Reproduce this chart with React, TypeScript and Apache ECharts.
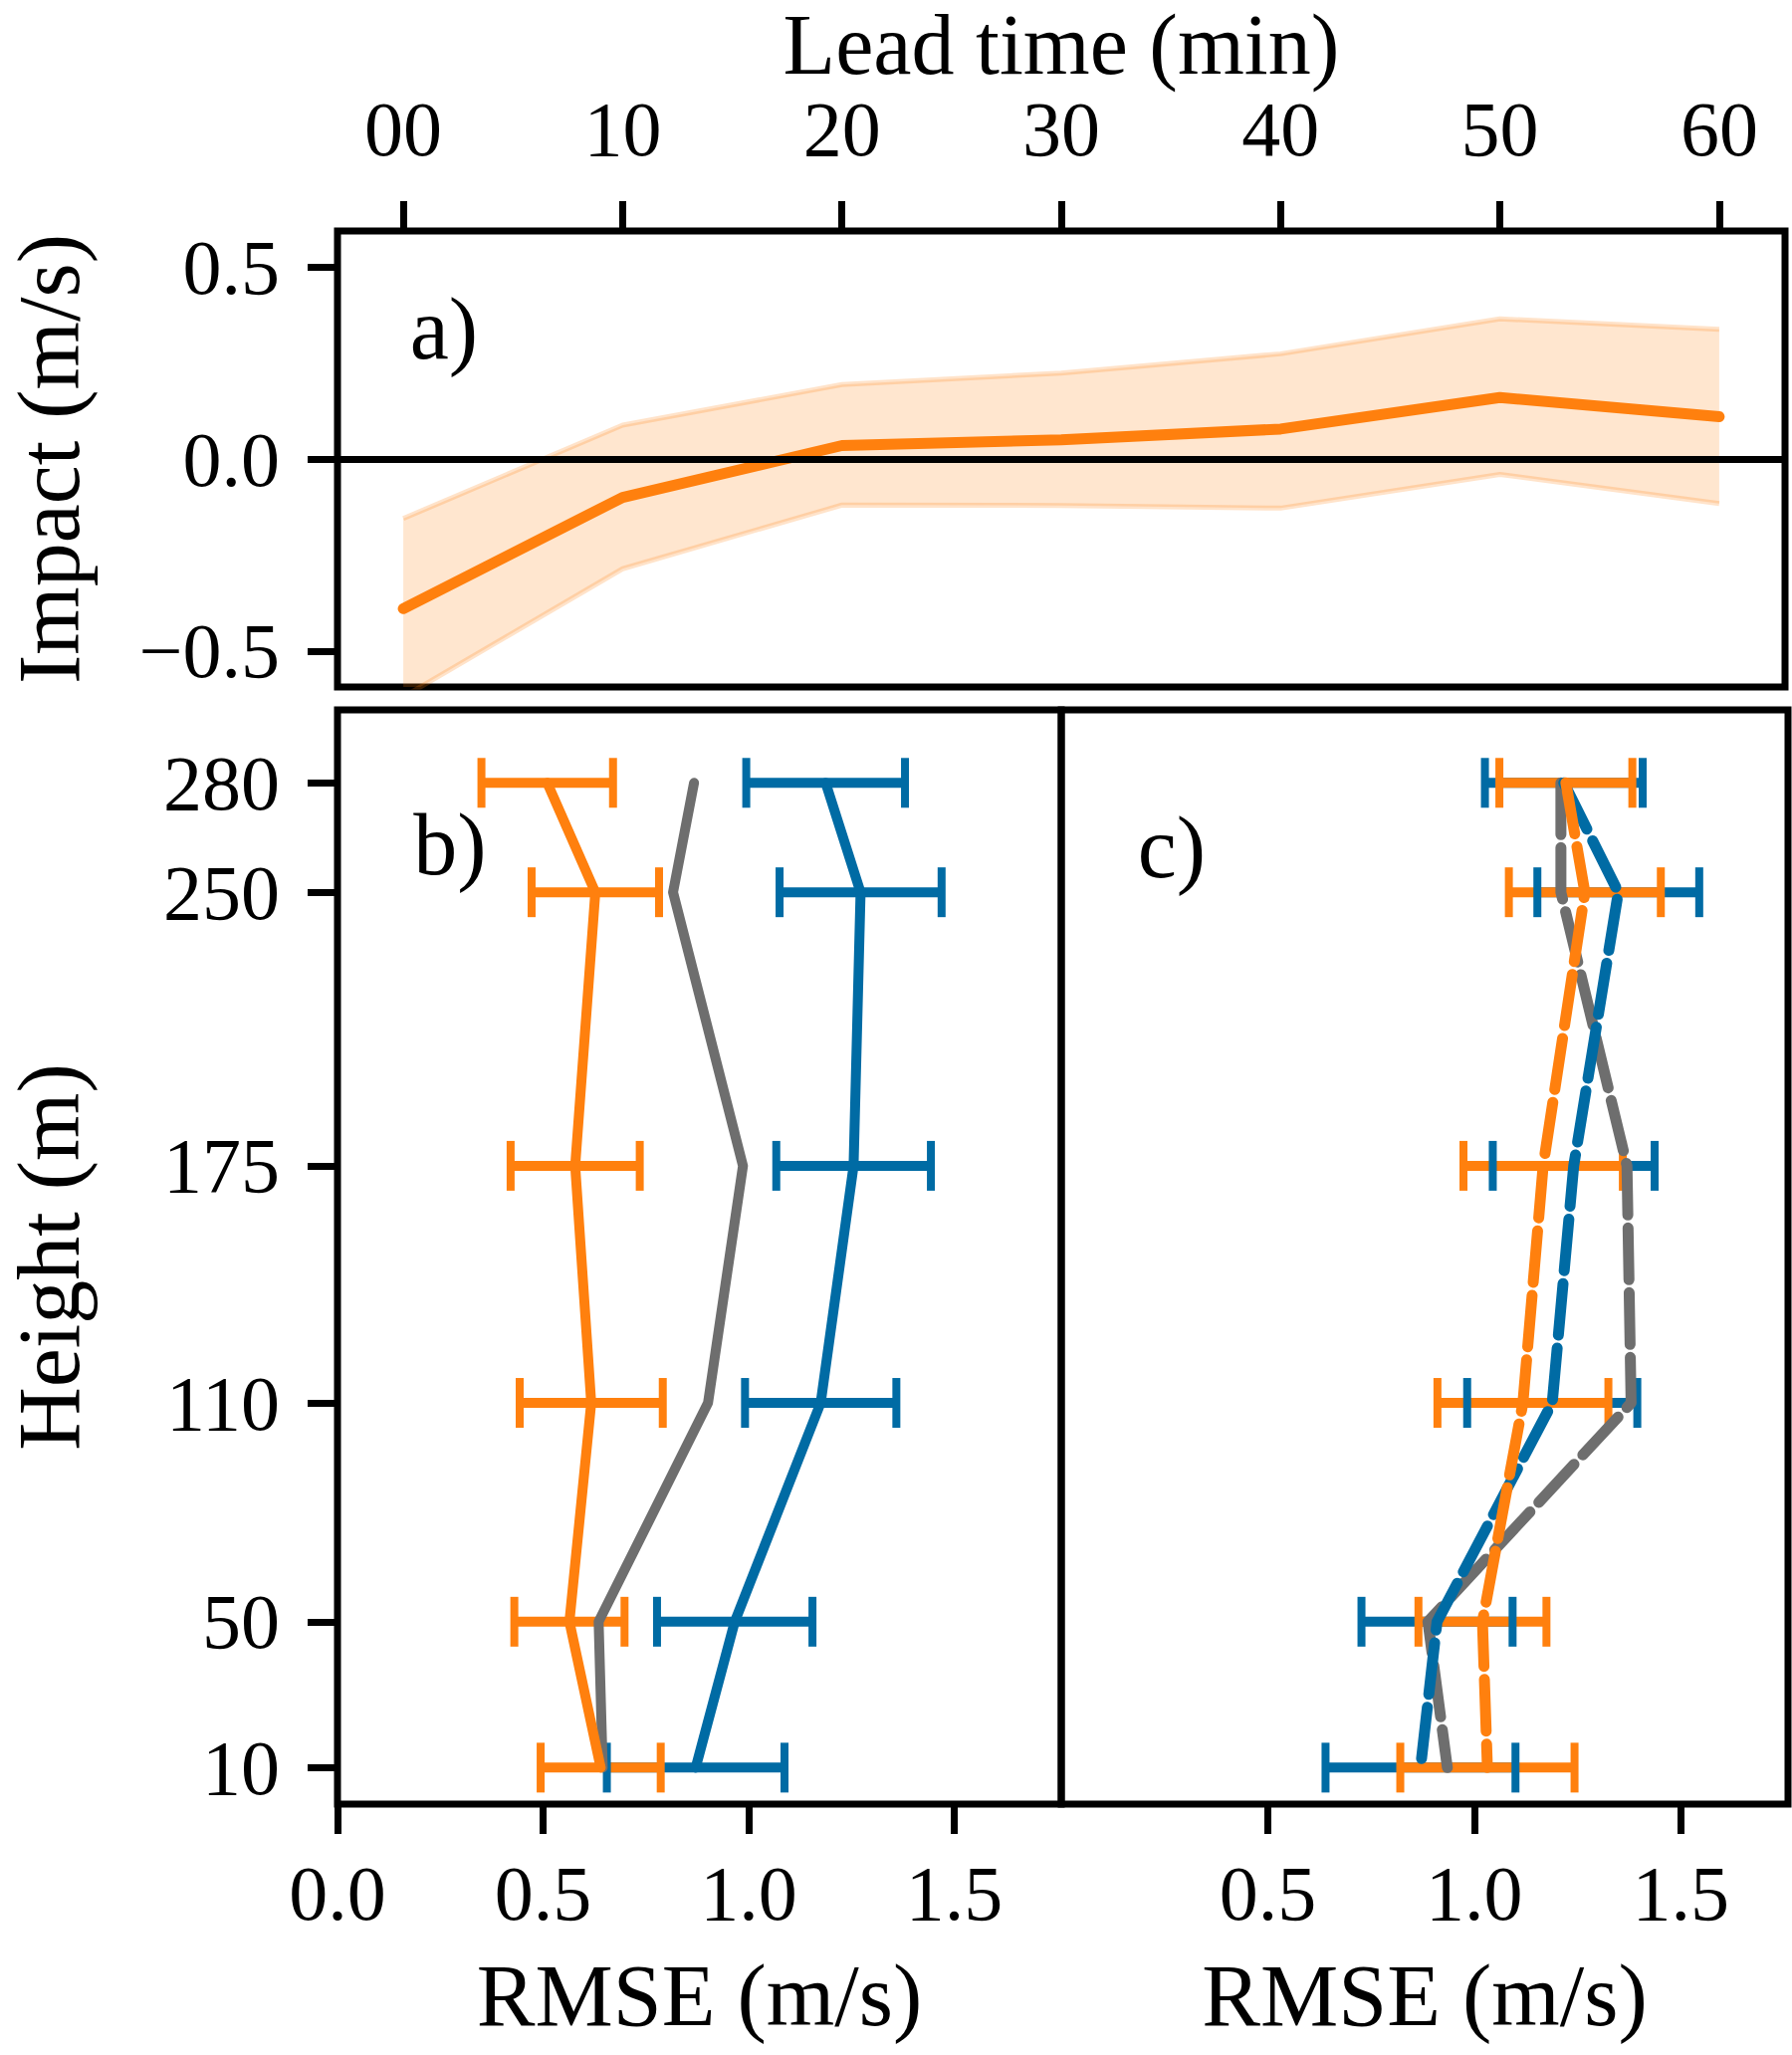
import React, { useEffect, useRef } from "react";
import * as echarts from "echarts";

// panel a: impact vs lead time
const leadTimes = [0, 10, 20, 30, 40, 50, 60];
const leadLabels = ["00", "10", "20", "30", "40", "50", "60"];
const impactMean = [-0.39, -0.1, 0.035, 0.05, 0.078, 0.16, 0.11];
const impactUpper = [-0.155, 0.088, 0.194, 0.224, 0.274, 0.365, 0.338];
const impactLower = [-0.62, -0.286, -0.12, -0.121, -0.128, -0.04, -0.116];
const impactTicks = [-0.5, 0, 0.5];
const impactTickLabels = ["\u22120.5", "0.0", "0.5"];

// panels b and c: RMSE profiles
const heights = [280, 250, 175, 110, 50, 10];
const rmseTicksB = [0, 0.5, 1, 1.5];
const rmseTicksC = [0.5, 1, 1.5];

const greyB = [0.867, 0.816, 0.986, 0.901, 0.635, 0.645];
const blueB = [1.187, 1.272, 1.255, 1.175, 0.966, 0.871];
const blueErrB = [0.193, 0.197, 0.188, 0.184, 0.189, 0.216];
const orangeB = [0.51, 0.627, 0.578, 0.617, 0.564, 0.64];
const orangeErrB = [0.16, 0.155, 0.157, 0.174, 0.134, 0.146];

const greyC = [1.21, 1.21, 1.37, 1.38, 0.888, 0.935];
const blueC = [1.217, 1.349, 1.241, 1.189, 0.91, 0.87];
const blueErrC = [0.191, 0.196, 0.196, 0.206, 0.183, 0.23];
const orangeC = [1.222, 1.268, 1.167, 1.118, 1.02, 1.032];
const orangeErrC = [0.161, 0.184, 0.193, 0.207, 0.155, 0.211];

const ORANGE = "#ff800e";
const BLUE = "#006ba4";
const GREY = "#6e6e6e";
const BAND_FILL = "rgba(255,128,14,0.2)";
const BAND_EDGE = "rgba(255,128,14,0.22)";
const FONT = "Liberation Serif";
const TICK_FS = 78;
const NAME_FS = 88;

const tickStyle = { length: 30, lineStyle: { width: 7, color: "#000" } };
const noLine = { show: false, onZero: false };

const errBars = (color: string) => (_p: any, api: any) => {
  const c = api.value(0);
  const h = api.value(1);
  const e = api.value(2);
  const a = api.coord([c - e, h]);
  const b = api.coord([c + e, h]);
  return {
    type: "line",
    shape: { x1: a[0], y1: a[1], x2: b[0], y2: b[1] },
    style: { stroke: color, lineWidth: 10 },
  };
};

const errCaps = (color: string) => (_p: any, api: any) => {
  const c = api.value(0);
  const h = api.value(1);
  const e = api.value(2);
  const a = api.coord([c - e, h]);
  const b = api.coord([c + e, h]);
  return {
    type: "group",
    children: [a, b].map((p) => ({
      type: "line",
      shape: { x1: p[0], y1: p[1] - 25, x2: p[0], y2: p[1] + 25 },
      style: { stroke: color, lineWidth: 8 },
    })),
  };
};

// fill between lower and upper, drawn once as a polygon
const bandRender = (params: any, api: any) => {
  if (params.dataIndex !== 0) return null;
  const top = leadTimes.map((t, i) => api.coord([t, impactUpper[i]]));
  const bottom = leadTimes.map((t, i) => api.coord([t, impactLower[i]])).reverse();
  return {
    type: "polygon",
    shape: { points: top.concat(bottom) },
    style: { fill: BAND_FILL, stroke: "none" },
  };
};

const App: React.FC = () => {
  const ref = useRef<HTMLDivElement>(null);

  useEffect(() => {
    if (!ref.current) return;
    const chart = echarts.init(ref.current, undefined, { renderer: "svg" });

    const profile = (vals: number[], color: string, idx: number, dashed: boolean) => ({
      type: "line",
      xAxisIndex: idx,
      yAxisIndex: idx,
      data: vals.map((v, i) => [v, heights[i]]),
      showSymbol: false,
      silent: true,
      lineStyle: {
        color,
        width: dashed ? 11 : 10,
        cap: "round",
        join: "round",
        type: dashed ? [52, 13] : "solid",
      },
    });

    const errSeries = (
      vals: number[],
      errs: number[],
      color: string,
      idx: number,
      caps: boolean
    ) => ({
      type: "custom",
      xAxisIndex: idx,
      yAxisIndex: idx,
      silent: true,
      data: vals.map((v, i) => [v, heights[i], errs[i]]),
      encode: { x: 0, y: 1 },
      renderItem: caps ? errCaps(color) : errBars(color),
    });

    const bandEdge = (vals: number[]) => ({
      type: "line",
      xAxisIndex: 0,
      yAxisIndex: 0,
      data: leadTimes.map((t, i) => [t, vals[i]]),
      showSymbol: false,
      silent: true,
      lineStyle: { color: BAND_EDGE, width: 5 },
    });

    const rmseAxis = (idx: number, ticks: number[]) => ({
      gridIndex: idx,
      type: "value",
      min: 0,
      max: 1.76,
      axisLine: noLine,
      splitLine: { show: false },
      axisTick: { ...tickStyle, customValues: ticks },
      axisLabel: {
        customValues: ticks,
        formatter: (v: number) => v.toFixed(1),
        fontSize: TICK_FS,
        fontFamily: FONT,
        color: "#000",
        margin: 50,
      },
      name: "RMSE (m/s)",
      nameLocation: "middle",
      nameGap: 148,
      nameTextStyle: { fontSize: NAME_FS, fontFamily: FONT, color: "#000" },
    });

    const gridBox = {
      show: true,
      borderColor: "#000",
      borderWidth: 7,
      backgroundColor: "transparent",
      containLabel: false,
      outerBoundsMode: "none",
    };
    const panelLabel = (text: string, x: number, y: number) => ({
      type: "text",
      x,
      y,
      style: { text, fontSize: NAME_FS, fontFamily: FONT, fill: "#000", align: "center", verticalAlign: "middle" },
    });

    const option: any = {
      animation: false,
      backgroundColor: "#fff",
      grid: [
        { left: 339, top: 232, width: 1454, height: 458, ...gridBox },
        { left: 339, top: 713, width: 727, height: 1099, ...gridBox },
        { left: 1066, top: 713, width: 730, height: 1099, ...gridBox },
      ],
      xAxis: [
        {
          gridIndex: 0,
          type: "value",
          position: "top",
          min: -3,
          max: 63,
          axisLine: noLine,
          splitLine: { show: false },
          axisTick: { ...tickStyle, customValues: leadTimes },
          axisLabel: {
            customValues: leadTimes,
            formatter: (v: number) => leadLabels[leadTimes.indexOf(v)],
            fontSize: TICK_FS,
            fontFamily: FONT,
            color: "#000",
            margin: 64,
          },
          name: "Lead time (min)",
          nameLocation: "middle",
          nameGap: 144,
          nameMoveOverlap: false,
          nameTextStyle: { fontSize: 86, lineHeight: 86, fontFamily: FONT, color: "#000" },
        },
        rmseAxis(1, rmseTicksB),
        rmseAxis(2, rmseTicksC),
      ],
      yAxis: [
        {
          gridIndex: 0,
          type: "value",
          min: -0.594,
          max: 0.594,
          axisLine: noLine,
          splitLine: { show: false },
          axisTick: { ...tickStyle, customValues: impactTicks },
          axisLabel: {
            customValues: impactTicks,
            formatter: (v: number) => impactTickLabels[impactTicks.indexOf(v)],
            fontSize: TICK_FS,
            fontFamily: FONT,
            color: "#000",
            margin: 58,
          },
          name: "Impact (m/s)",
          nameLocation: "middle",
          nameRotate: 90,
          nameGap: 246,
          nameTextStyle: { fontSize: NAME_FS, fontFamily: FONT, color: "#000" },
        },
        {
          gridIndex: 1,
          type: "value",
          min: 0,
          max: 300,
          axisLine: noLine,
          splitLine: { show: false },
          axisTick: { ...tickStyle, customValues: heights },
          axisLabel: {
            customValues: heights,
            formatter: (v: number) => String(v),
            fontSize: TICK_FS,
            fontFamily: FONT,
            color: "#000",
            margin: 58,
          },
          name: "Height (m)",
          nameLocation: "middle",
          nameRotate: 90,
          nameGap: 246,
          nameTextStyle: { fontSize: NAME_FS, fontFamily: FONT, color: "#000" },
        },
        {
          gridIndex: 2,
          type: "value",
          min: 0,
          max: 300,
          axisLine: noLine,
          splitLine: { show: false },
          axisTick: { show: false },
          axisLabel: { show: false },
        },
      ],
      graphic: [
        panelLabel("a)", 446, 330),
        panelLabel("b)", 452, 848),
        panelLabel("c)", 1177, 851),
      ],
      series: [
        // a) spread band
        {
          type: "custom",
          xAxisIndex: 0,
          yAxisIndex: 0,
          silent: true,
          clip: true,
          data: leadTimes.map((t, i) => [t, impactLower[i], impactUpper[i]]),
          encode: { x: 0, y: [1, 2] },
          renderItem: bandRender,
        },
        bandEdge(impactUpper),
        bandEdge(impactLower),
        {
          type: "line",
          xAxisIndex: 0,
          yAxisIndex: 0,
          data: leadTimes.map((t, i) => [t, impactMean[i]]),
          showSymbol: false,
          silent: true,
          lineStyle: { color: ORANGE, width: 11, cap: "round", join: "round" },
          markLine: {
            silent: true,
            symbol: ["none", "none"],
            label: { show: false },
            lineStyle: { color: "#000", width: 7, type: "solid" },
            data: [{ yAxis: 0 }],
          },
        },
        // b)
        errSeries(blueB, blueErrB, BLUE, 1, false),
        errSeries(orangeB, orangeErrB, ORANGE, 1, false),
        profile(greyB, GREY, 1, false),
        profile(blueB, BLUE, 1, false),
        profile(orangeB, ORANGE, 1, false),
        errSeries(blueB, blueErrB, BLUE, 1, true),
        errSeries(orangeB, orangeErrB, ORANGE, 1, true),
        // c)
        errSeries(blueC, blueErrC, BLUE, 2, false),
        errSeries(orangeC, orangeErrC, ORANGE, 2, false),
        profile(greyC, GREY, 2, true),
        profile(blueC, BLUE, 2, true),
        profile(orangeC, ORANGE, 2, true),
        errSeries(blueC, blueErrC, BLUE, 2, true),
        errSeries(orangeC, orangeErrC, ORANGE, 2, true),
      ],
    };

    chart.setOption(option);
    return () => chart.dispose();
  }, []);

  return (
    <div
      ref={ref}
      style={{ position: "absolute", left: 0, top: 0, width: 1800, height: 2064 }}
    />
  );
};

export default App;
